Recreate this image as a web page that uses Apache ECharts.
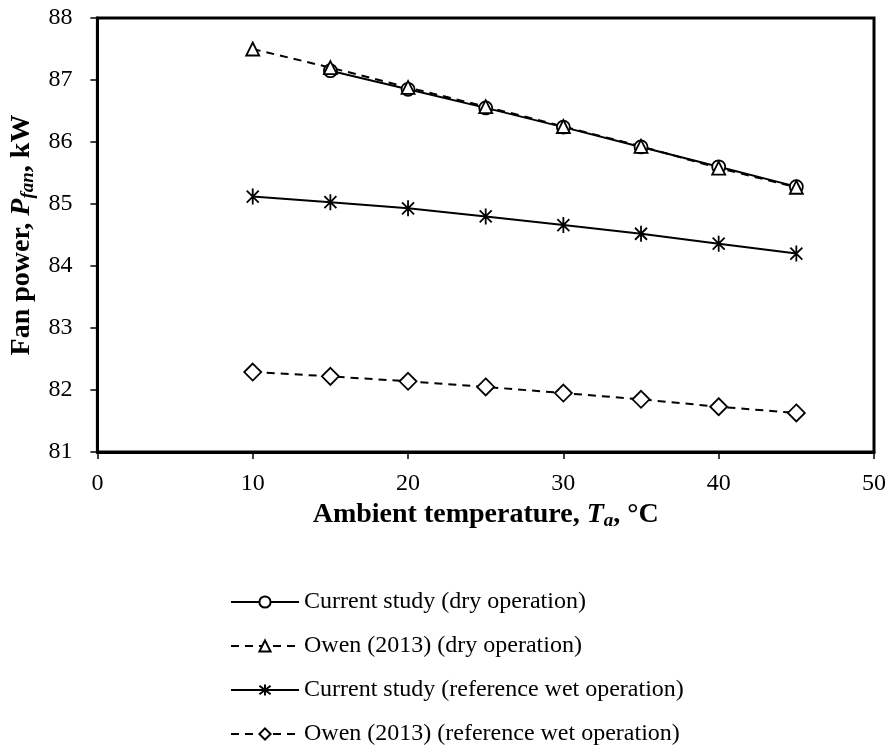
<!DOCTYPE html>
<html><head><meta charset="utf-8">
<script src="https://cdn.jsdelivr.net/npm/echarts@6/dist/echarts.min.js"></script>
<style>html,body{margin:0;padding:0;background:#fff}#c{width:889px;height:745px}</style>
</head><body><div id="c"></div>
<script>
const temps = [10, 15, 20, 25, 30, 35, 40, 45];
const currentDry = [null, 87.15, 86.85, 86.55, 86.24, 85.92, 85.60, 85.28];
const owenDry = [87.50, 87.20, 86.88, 86.57, 86.25, 85.93, 85.58, 85.27];
const currentWet = [85.12, 85.03, 84.93, 84.80, 84.66, 84.52, 84.36, 84.20];
const owenWet = [82.29, 82.22, 82.14, 82.05, 81.95, 81.85, 81.73, 81.63];
const seriesNames = ['Current study (dry operation)', 'Owen (2013) (dry operation)', 'Current study (reference wet operation)', 'Owen (2013) (reference wet operation)'];
const xTicks = [0, 10, 20, 30, 40, 50];
const yTicks = [81, 82, 83, 84, 85, 86, 87, 88];

const FONT = 'Liberation Serif';
const asterisk = 'path://M0,-10 L0,10 M-7.5,-7.5 L7.5,7.5 M-7.5,7.5 L7.5,-7.5';
function pairs(vals){ return temps.map((t,i)=>[t, vals[i]]).filter(p=>p[1]!==null); }
function mk(name, vals, symbol, size, dashed){
  return {
    name, type:'line', data: pairs(vals), symbol, symbolSize: size, symbolKeepAspect:true,
    showAllSymbol:true,
    lineStyle:{color:'#000', width:2, type: dashed ? [8,6] : 'solid'},
    itemStyle:{color:'#fff', borderColor:'#000', borderWidth:1.8},
    emphasis:{disabled:true}, z: 3
  };
}
const rich = {
  b:{fontFamily:FONT, fontSize:28, fontWeight:'bold', color:'#000'},
  bi:{fontFamily:FONT, fontSize:28, fontWeight:'bold', fontStyle:'italic', color:'#000'},
  sub:{fontFamily:FONT, fontSize:19, fontWeight:'bold', fontStyle:'italic', color:'#000', verticalAlign:'bottom', padding:[12,0,0,0]}
};
const chart = echarts.init(document.getElementById('c'));
chart.setOption({
  animation:false,
  backgroundColor:'#fff',
  textStyle:{fontFamily:FONT, color:'#000'},
  grid:{left:97, top:18, right:14, bottom:293, show:true, borderColor:'#000', borderWidth:3, backgroundColor:'transparent'},
  xAxis:{
    type:'value', min:xTicks[0], max:xTicks[xTicks.length-1], interval:10,
    axisLine:{show:true, lineStyle:{color:'#000', width:3}},
    axisTick:{show:true, length:7, lineStyle:{color:'#000', width:1.5}},
    splitLine:{show:false},
    axisLabel:{fontFamily:FONT, fontSize:24, color:'#000', margin:20},
    name:'{b|Ambient temperature, }{bi|T}{sub|a}{b|, °C}',
    nameLocation:'middle', nameGap:47,
    nameTextStyle:{rich}
  },
  yAxis:{
    type:'value', min:yTicks[0], max:yTicks[yTicks.length-1], interval:1,
    axisLine:{show:true, lineStyle:{color:'#000', width:3}},
    axisTick:{show:true, length:7, lineStyle:{color:'#000', width:1.5}},
    splitLine:{show:false},
    axisLabel:{fontFamily:FONT, fontSize:24, color:'#000', margin:25},
    name:'{b|Fan power, }{bi|P}{sub|fan}{b|, kW}',
    nameLocation:'middle', nameGap:54, nameRotate:90,
    nameTextStyle:{rich}
  },
  legend:{
    orient:'vertical', left:225, top:585, height:160, itemWidth:68, itemHeight:14, itemGap:20,
    textStyle:{fontFamily:FONT, fontSize:24, color:'#000'},
    selectedMode:false,
    data: seriesNames
  },
  series:[
    mk(seriesNames[0], currentDry, 'circle', 13, false),
    mk(seriesNames[1], owenDry, 'triangle', 13, true),
    mk(seriesNames[2], currentWet, asterisk, 16, false),
    mk(seriesNames[3], owenWet, 'diamond', 17, true)
  ]
});
</script></body></html>
